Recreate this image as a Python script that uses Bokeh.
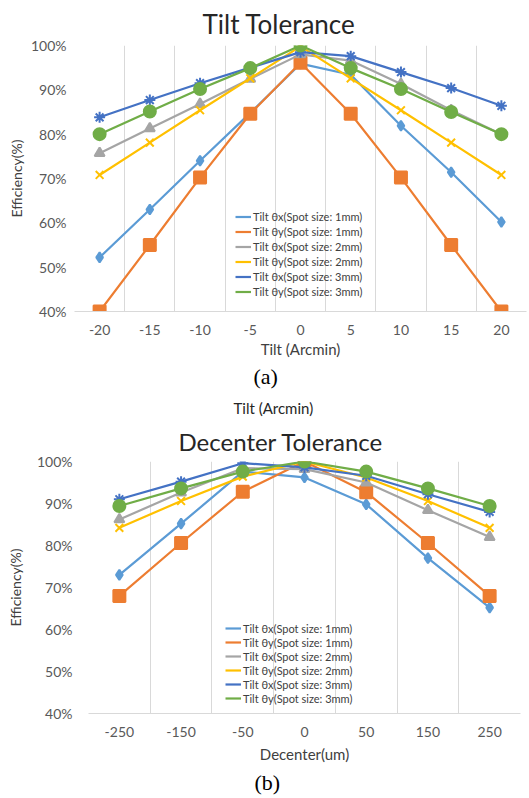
from bokeh.plotting import figure
from bokeh.models import FixedTicker, Legend, LegendItem, Title, Range1d
from bokeh.embed import file_html
from bokeh.resources import INLINE

# ---------------- data ----------------
series_names = [
    "Tilt θx(Spot size: 1mm)",
    "Tilt θy(Spot size: 1mm)",
    "Tilt θx(Spot size: 2mm)",
    "Tilt θy(Spot size: 2mm)",
    "Tilt θx(Spot size: 3mm)",
    "Tilt θy(Spot size: 3mm)",
]

tilt_labels = ["-20", "-15", "-10", "-5", "0", "5", "10", "15", "20"]
tilt_x_1mm = [52.2, 63.0, 74.0, 84.8, 95.9, 93.4, 81.9, 71.4, 60.2]
tilt_y_1mm = [40.0, 55.0, 70.2, 84.6, 96.1, 84.6, 70.2, 55.0, 40.0]
tilt_x_2mm = [75.7, 81.3, 86.8, 92.5, 98.0, 96.6, 91.3, 85.4, 80.0]
tilt_y_2mm = [70.8, 78.1, 85.4, 92.6, 99.8, 92.6, 85.4, 78.1, 70.8]
tilt_x_3mm = [83.8, 87.7, 91.5, 95.0, 98.5, 97.6, 94.0, 90.4, 86.4]
tilt_y_3mm = [80.0, 85.1, 90.2, 94.9, 100.0, 94.9, 90.2, 85.0, 80.0]

dec_labels = ["-250", "-150", "-50", "0", "50", "150", "250"]
dec_x_1mm = [73.0, 85.2, 97.6, 96.2, 89.8, 77.0, 65.2]
dec_y_1mm = [68.0, 80.6, 92.8, 100.0, 92.7, 80.6, 68.0]
dec_x_2mm = [86.2, 92.6, 98.4, 98.2, 95.0, 88.4, 82.0]
dec_y_2mm = [84.2, 90.6, 96.4, 100.0, 96.2, 90.6, 84.2]
dec_x_3mm = [91.0, 95.2, 99.6, 98.6, 96.6, 92.2, 88.0]
dec_y_3mm = [89.4, 93.6, 97.6, 100.0, 97.6, 93.6, 89.4]

y_ticks = [40, 50, 60, 70, 80, 90, 100]

# ---------------- styles ----------------
colors = ["#5B9BD5", "#ED7D31", "#A5A5A5", "#FFC000", "#4472C4", "#70AD47"]
markers = ["diamond", "square", "triangle", "x", "asterisk", "circle"]
msizes = [10, 12, 10, 11, 11, 12]
FONT = "Lato"


def make_fig(labels, data, xlabel, frame_w, frame_h, left, top,
             title_text, title_size, title_offset, title_standoff,
             tick_standoff, label_standoff, xlabel_standoff,
             legend_loc, legend_row, caption, caption_offset, caption_standoff,
             small_text=None, small_offset=0):
    n = len(labels)
    p = figure(frame_width=frame_w, frame_height=frame_h,
               x_range=Range1d(0, n), y_range=Range1d(40, 100),
               output_backend="svg", toolbar_location=None,
               min_border_left=left, min_border_right=529 - left - frame_w,
               min_border_top=top, min_border_bottom=0)
    p.outline_line_color = None
    p.background_fill_color = "white"
    p.border_fill_color = "white"

    main_title = Title(text=title_text, align="left", offset=title_offset,
                       text_font=FONT, text_font_size=title_size,
                       text_font_style="normal", text_color="#262626",
                       standoff=title_standoff)
    if small_text:
        p.title.text = small_text
        p.title.text_font = FONT
        p.title.text_font_size = "15px"
        p.title.text_font_style = "normal"
        p.title.text_color = "#262626"
        p.title.align = "left"
        p.title.offset = small_offset
        p.title.standoff = 6
        p.add_layout(main_title, "above")
    else:
        p.title = main_title

    xs = [i + 0.5 for i in range(n)]
    items = []
    for k, ys in enumerate(data):
        r = p.line(xs, ys, line_color=colors[k], line_width=2.2)
        p.scatter(xs, ys, marker=markers[k], size=msizes[k],
                  fill_color=colors[k], line_color=colors[k], line_width=2)
        items.append(LegendItem(label=series_names[k], renderers=[r]))

    # x axis
    xa = p.xaxis[0]
    xa.ticker = FixedTicker(ticks=xs)
    xa.major_label_overrides = {x: lab for x, lab in zip(xs, labels)}
    xa.axis_line_color = "#D9D9D9"
    xa.major_tick_line_color = None
    xa.minor_tick_line_color = None
    xa.major_tick_out = 0
    xa.major_tick_in = 0
    xa.major_label_text_font = FONT
    xa.major_label_text_font_size = "14px"
    xa.major_label_text_color = "#595959"
    xa.major_label_standoff = 13
    xa.axis_label = xlabel
    xa.axis_label_text_font = FONT
    xa.axis_label_text_font_size = "15px"
    xa.axis_label_text_font_style = "normal"
    xa.axis_label_text_color = "#404040"
    xa.axis_label_standoff = xlabel_standoff

    # y axis
    ya = p.yaxis[0]
    ya.ticker = FixedTicker(ticks=y_ticks)
    ya.major_label_overrides = {v: f"{v}%" for v in y_ticks}
    ya.axis_line_color = None
    ya.major_tick_line_color = None
    ya.minor_tick_line_color = None
    ya.major_tick_out = 0
    ya.major_tick_in = 0
    ya.major_label_text_font = FONT
    ya.major_label_text_font_size = "14px"
    ya.major_label_text_color = "#595959"
    ya.major_label_standoff = tick_standoff
    ya.axis_label = "Efficiency(%)"
    ya.axis_label_text_font = FONT
    ya.axis_label_text_font_size = "14px"
    ya.axis_label_text_font_style = "normal"
    ya.axis_label_text_color = "#404040"
    ya.axis_label_standoff = label_standoff

    # grids: vertical lines at category boundaries, no horizontal
    p.xgrid.ticker = FixedTicker(ticks=list(range(0, n + 1)))
    p.xgrid.grid_line_color = "#D9D9D9"
    p.xgrid.grid_line_width = 1
    p.ygrid.grid_line_color = None

    legend = Legend(items=items, location=legend_loc,
                    background_fill_alpha=0, border_line_color=None,
                    padding=0, margin=0, spacing=0,
                    label_text_font=FONT, label_text_font_size="11px",
                    label_text_color="#404040",
                    label_height=legend_row, glyph_height=legend_row,
                    glyph_width=16, label_standoff=2)
    p.add_layout(legend, "center")

    cap = Title(text=caption, align="left", offset=caption_offset,
                text_font="Liberation Serif", text_font_size="22px",
                text_font_style="normal", text_color="black",
                standoff=caption_standoff)
    p.add_layout(cap, "below")
    return p


p1 = make_fig(tilt_labels,
              [tilt_x_1mm, tilt_y_1mm, tilt_x_2mm, tilt_y_2mm, tilt_x_3mm, tilt_y_3mm],
              "Tilt (Arcmin)", 452, 266, 74, 44,
              "Tilt Tolerance", "26px", 128, 11,
              8, 3, 2,
              (161, 12), 15, "(a)", 179, 3)
p2 = make_fig(dec_labels,
              [dec_x_1mm, dec_y_1mm, dec_x_2mm, dec_y_2mm, dec_x_3mm, dec_y_3mm],
              "Decenter(um)", 432, 252, 88, 71,
              "Decenter Tolerance", "24px", 90, 11,
              16, 10, 5,
              (137, 8), 14, "(b)", 166, 5,
              small_text="Tilt (Arcmin)", small_offset=145)

open("out.html", "w").write(file_html([p1, p2], INLINE))
